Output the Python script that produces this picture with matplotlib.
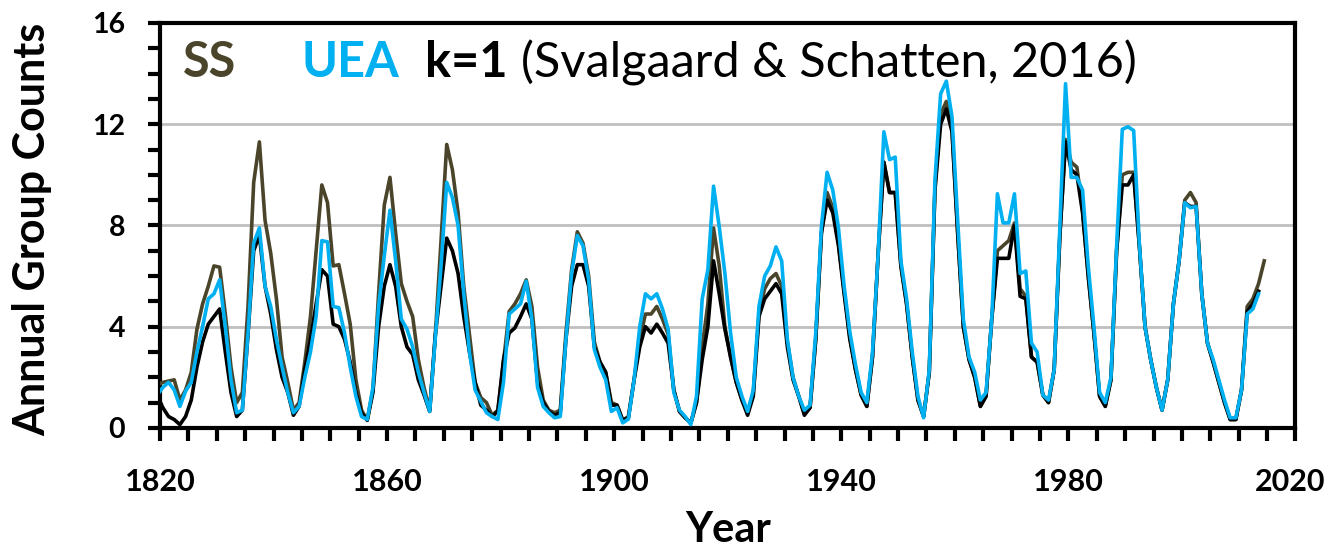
import numpy as np
import matplotlib
matplotlib.use("Agg")
import matplotlib.pyplot as plt
import matplotlib.transforms as mtransforms
from matplotlib.ticker import MultipleLocator, FixedLocator

# Roky (hodnoty jsou vykresleny uprostred roku)
years_ss = np.arange(1819, 2015)
years_k1 = np.arange(1819, 2014)
years_uea = np.arange(1819, 2014)

ss = [
    1.7, 1.8, 1.85, 1.9, 1.1, 1.5, 2.2, 3.9, 4.9, 5.6,
    6.4, 6.35, 4.5, 2.4, 1.0, 1.4, 4.8, 9.7, 11.3, 8.2,
    6.9, 5.1, 2.8, 1.8, 0.7, 1.0, 2.6, 4.4, 7.0, 9.6,
    8.9, 6.4, 6.45, 5.3, 4.1, 1.9, 0.7, 0.3, 1.5, 5.3,
    8.8, 9.9, 7.7, 5.7, 5.0, 4.4, 2.7, 1.6, 0.7, 3.7,
    7.4, 11.2, 10.2, 8.5, 5.6, 3.7, 1.8, 1.2, 1.0, 0.5,
    0.7, 2.6, 4.6, 4.9, 5.3, 5.85, 4.8, 2.4, 1.1, 0.7,
    0.6, 0.7, 3.75, 6.25, 7.75, 7.3, 6.0, 3.4, 2.6, 2.2,
    1.0, 0.9, 0.3, 0.45, 1.9, 3.5, 4.5, 4.5, 4.8, 4.3,
    3.7, 1.5, 0.65, 0.4, 0.2, 1.0, 3.2, 4.9, 7.9, 6.4,
    4.0, 2.8, 1.8, 1.1, 0.6, 1.4, 4.5, 5.5, 5.9, 6.1,
    5.6, 3.4, 2.0, 1.25, 0.6, 0.8, 3.5, 7.7, 9.3, 8.7,
    7.3, 5.4, 3.6, 2.3, 1.3, 0.85, 2.8, 6.9, 10.5, 9.3,
    9.3, 6.4, 4.9, 2.8, 1.1, 0.45, 2.2, 9.5, 12.4, 12.9,
    11.8, 7.7, 4.0, 2.7, 2.0, 0.85, 1.25, 4.3, 7.0, 7.2,
    7.4, 8.1, 5.5, 5.2, 2.8, 2.6, 1.3, 1.0, 2.3, 7.6,
    11.4, 10.5, 10.3, 8.6, 6.0, 3.75, 1.25, 0.85, 1.9, 7.0,
    10.0, 10.1, 10.1, 7.2, 4.0, 2.7, 1.6, 0.7, 1.9, 4.9,
    6.6, 9.0, 9.3, 8.9, 5.3, 3.35, 2.6, 1.8, 1.0, 0.33,
    0.33, 1.5, 4.8, 5.1, 5.7, 6.6,
]

k1 = [
    1.3, 0.8, 0.45, 0.33, 0.13, 0.45, 1.1, 2.4, 3.4, 4.1,
    4.4, 4.7, 3.0, 1.4, 0.45, 0.7, 3.7, 7.0, 7.6, 5.6,
    4.5, 3.1, 2.0, 1.4, 0.5, 0.85, 2.3, 3.5, 4.9, 6.25,
    6.0, 4.1, 4.0, 3.5, 2.6, 1.4, 0.6, 0.3, 1.4, 4.0,
    5.6, 6.45, 5.6, 4.0, 3.2, 2.9, 1.9, 1.3, 0.65, 3.7,
    5.6, 7.5, 7.0, 6.1, 4.4, 3.0, 1.8, 0.9, 0.7, 0.45,
    0.65, 2.7, 3.75, 3.95, 4.4, 4.9, 4.3, 1.8, 1.0, 0.65,
    0.5, 0.6, 3.5, 5.6, 6.45, 6.45, 5.6, 3.2, 2.6, 2.2,
    0.9, 0.9, 0.3, 0.4, 1.9, 3.2, 4.0, 3.75, 4.1, 3.75,
    3.35, 1.5, 0.65, 0.4, 0.2, 1.0, 2.7, 4.0, 6.6, 5.3,
    3.9, 2.8, 1.8, 1.1, 0.5, 1.25, 4.4, 5.1, 5.4, 5.7,
    5.3, 3.2, 1.9, 1.25, 0.5, 0.8, 3.5, 7.7, 9.0, 8.5,
    7.2, 5.3, 3.5, 2.3, 1.3, 0.85, 2.8, 6.9, 10.5, 9.3,
    9.3, 6.4, 4.9, 2.8, 1.1, 0.45, 2.2, 9.4, 12.0, 12.6,
    11.7, 7.7, 4.0, 2.7, 2.0, 0.85, 1.25, 4.3, 6.7, 6.7,
    6.7, 8.0, 5.2, 5.1, 2.8, 2.6, 1.3, 1.0, 2.3, 7.6,
    11.3, 10.2, 10.0, 8.5, 6.0, 3.75, 1.25, 0.85, 1.9, 7.0,
    9.6, 9.6, 10.0, 7.2, 4.0, 2.7, 1.6, 0.7, 1.9, 4.9,
    6.6, 8.9, 8.75, 8.75, 5.3, 3.35, 2.6, 1.8, 1.0, 0.33,
    0.33, 1.5, 4.6, 4.9, 5.4,
]

uea = [
    1.3, 1.6, 1.8, 1.5, 0.85, 1.45, 1.8, 3.0, 4.0, 5.1,
    5.3, 5.85, 4.0, 1.9, 0.6, 0.7, 3.75, 7.3, 7.9, 5.6,
    4.8, 3.5, 2.4, 1.4, 0.6, 0.85, 2.0, 3.0, 4.4, 7.4,
    7.35, 4.8, 4.75, 3.75, 2.4, 1.25, 0.45, 0.33, 1.6, 4.8,
    6.8, 8.6, 6.6, 4.3, 3.9, 3.2, 2.2, 1.4, 0.65, 3.6,
    6.4, 9.7, 9.1, 8.0, 5.3, 3.0, 1.5, 1.05, 0.6, 0.45,
    0.33, 1.8, 4.5, 4.7, 4.9, 5.8, 4.3, 1.6, 0.85, 0.6,
    0.4, 0.45, 3.5, 6.1, 7.6, 7.2, 5.85, 3.1, 2.4, 1.9,
    0.65, 0.8, 0.2, 0.35, 1.9, 4.0, 5.3, 5.1, 5.3, 4.7,
    3.9, 1.4, 0.7, 0.45, 0.13, 1.25, 5.1, 6.25, 9.55, 7.95,
    6.1, 3.75, 2.0, 1.25, 0.65, 1.5, 4.8, 6.0, 6.4, 7.15,
    6.6, 3.5, 2.0, 1.25, 0.7, 0.9, 3.75, 7.95, 10.1, 9.4,
    7.9, 5.6, 3.8, 2.5, 1.4, 1.0, 3.0, 6.9, 11.7, 10.6,
    10.7, 6.6, 5.1, 3.0, 1.25, 0.4, 2.3, 9.8, 13.2, 13.7,
    12.3, 8.2, 4.3, 2.8, 2.2, 1.1, 1.4, 4.3, 9.25, 8.1,
    8.1, 9.25, 6.1, 6.2, 3.35, 3.0, 1.3, 1.1, 2.3, 7.95,
    13.6, 9.9, 9.9, 9.4, 6.4, 4.0, 1.4, 1.0, 2.0, 7.2,
    11.8, 11.9, 11.75, 7.3, 4.0, 2.7, 1.6, 0.7, 1.9, 4.9,
    6.6, 8.9, 8.7, 8.75, 5.3, 3.35, 2.7, 1.9, 1.1, 0.4,
    0.4, 1.5, 4.5, 4.7, 5.3,
]

c_ss = "#4a452a"
c_uea = "#00b0f0"

plt.rcParams["font.family"] = ["Lato", "DejaVu Sans"]

fig = plt.figure(figsize=(13.28, 5.55), dpi=100)
ax = fig.add_axes([0.1205, 0.229, 0.855, 0.7296])

ax.plot(years_ss + 0.5, ss, color=c_ss, lw=2.6, zorder=3)
ax.plot(years_k1 + 0.5, k1, color="black", lw=2.6, zorder=4)
ax.plot(years_uea + 0.5, uea, color=c_uea, lw=2.6, zorder=5)

ax.set_xlim(1820, 2020)
ax.set_ylim(0, 16)
ax.xaxis.set_major_locator(FixedLocator([1820, 1860, 1900, 1940, 1980, 2020]))
ax.xaxis.set_minor_locator(MultipleLocator(5))
ax.yaxis.set_major_locator(MultipleLocator(4))
ax.yaxis.set_minor_locator(MultipleLocator(1))
ax.grid(axis="y", which="major", color="#bfbfbf", lw=2, zorder=0)

for s in ax.spines.values():
    s.set_linewidth(3)
ax.tick_params(axis="both", which="both", direction="out", width=3, length=9)
ax.tick_params(axis="x", which="major", labelsize=22, pad=20)
ax.tick_params(axis="y", which="major", labelsize=20.5, pad=16)
for lab in ax.get_xticklabels() + ax.get_yticklabels():
    lab.set_fontweight("bold")

# posledni popisek osy x trochu doleva, at se vejde
last = ax.get_xticklabels()[-1]
last.set_transform(last.get_transform() + mtransforms.ScaledTranslation(-5 / 100, 0, fig.dpi_scale_trans))

ax.set_xlabel("Year", fontsize=30, fontweight="bold")
ax.set_ylabel("Annual Group Counts", fontsize=31, fontweight="bold")
ax.xaxis.set_label_coords(0.5, -0.205)
ax.yaxis.set_label_coords(-0.095, 0.49)

# popisky serii uvnitr grafu
ty = 13.85
fs = 35
ax.text(1824.1, ty, "SS", color=c_ss, fontsize=fs, fontweight="bold", va="baseline")
ax.text(1844.9, ty, "UEA", color=c_uea, fontsize=fs, fontweight="bold", va="baseline")
ax.text(1866.6, ty, "k=1", color="black", fontsize=fs, fontweight="bold", va="baseline")
ax.text(1883.6, ty, "(Svalgaard & Schatten, 2016)", color="black", fontsize=fs, va="baseline")

fig.savefig("out.png", dpi=100)
